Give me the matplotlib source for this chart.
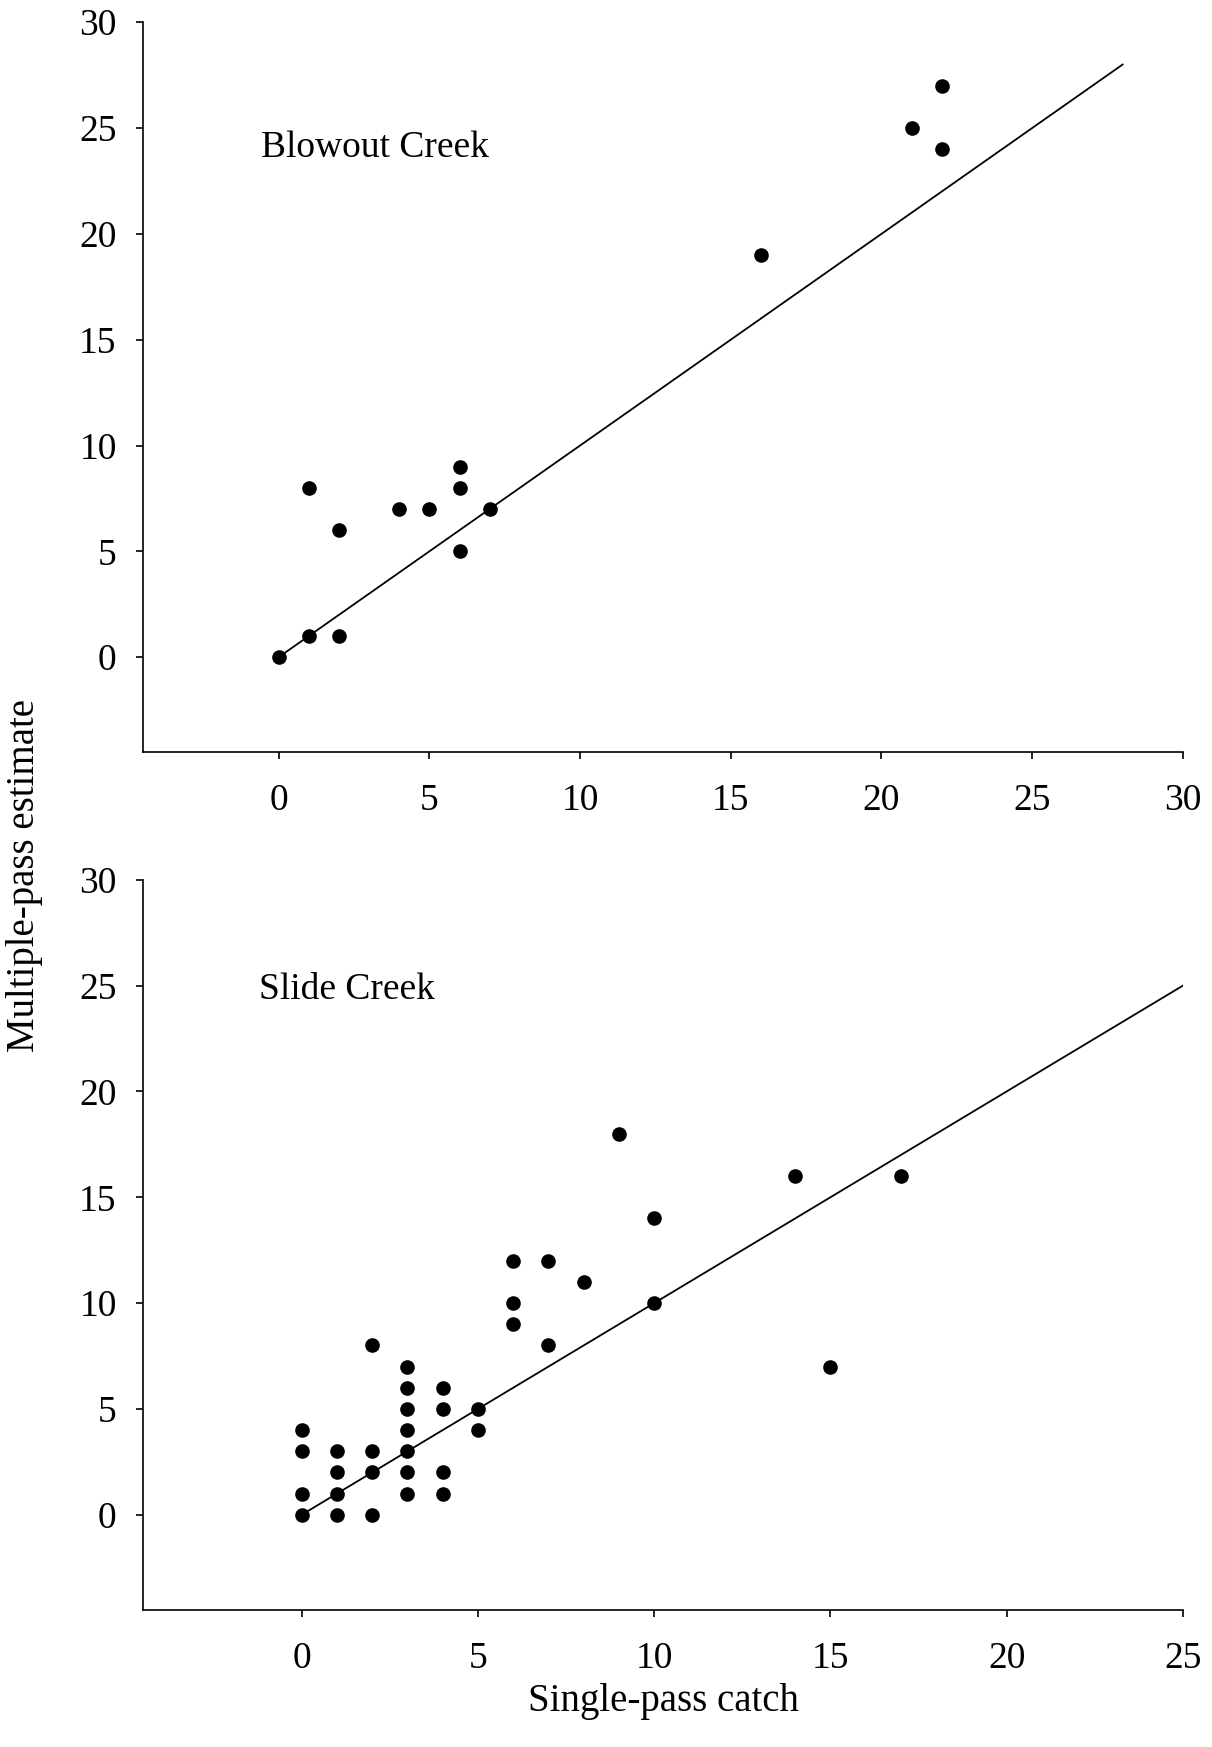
import matplotlib
matplotlib.use("Agg")
import matplotlib.pyplot as plt

plt.rcParams['font.family'] = ['Liberation Serif', 'DejaVu Serif']

# Blowout Creek
blowout_single = [0, 1, 1, 2, 2, 4, 5, 6, 6, 6, 7, 16, 21, 22, 22]
blowout_multi = [0, 1, 8, 6, 1, 7, 7, 9, 8, 5, 7, 19, 25, 27, 24]
blowout_line = [0, 28]

# Slide Creek
slide_single = [0, 0, 0, 0, 1, 1, 1, 1, 2, 2, 2, 2,
                3, 3, 3, 3, 3, 3, 3, 4, 4, 4, 4, 5, 5,
                6, 6, 6, 7, 7, 8, 9, 10, 10, 14, 15, 17]
slide_multi = [0, 1, 3, 4, 0, 1, 2, 3, 0, 2, 3, 8,
               1, 2, 3, 4, 5, 6, 7, 1, 2, 5, 6, 4, 5,
               9, 10, 12, 12, 8, 11, 18, 14, 10, 16, 7, 16]
slide_line = [0, 25]

fig = plt.figure(figsize=(12.12, 17.47), dpi=100)

panels = [
    ([0.1180, 0.5693, 0.8580, 0.4180], blowout_single, blowout_multi, blowout_line,
     30, [0, 5, 10, 15, 20, 25, 30], "Blowout Creek", (-0.6, 24.05)),
    ([0.1180, 0.0784, 0.8580, 0.4180], slide_single, slide_multi, slide_line,
     25, [0, 5, 10, 15, 20, 25], "Slide Creek", (-1.2, 24.8)),
]

for rect, xs, ys, line, xmax, xticks, name, pos in panels:
    ax = fig.add_axes(rect)
    ax.plot(line, line, color='black', linewidth=1.3, zorder=2)
    ax.plot(xs, ys, 'o', color='black', markersize=9.5, zorder=3, clip_on=False)
    ax.set_xlim(-4.5, xmax)
    ax.set_ylim(-4.5, 30)
    ax.set_xticks(xticks)
    ax.set_yticks([0, 5, 10, 15, 20, 25, 30])
    ax.spines['top'].set_visible(False)
    ax.spines['right'].set_visible(False)
    ax.spines['left'].set_linewidth(1.2)
    ax.spines['bottom'].set_linewidth(1.2)
    ax.tick_params(direction='out', length=5, width=1.2, labelsize=27, pad=14)
    ax.tick_params(axis='x', pad=17.5)
    ax.text(pos[0], pos[1], name, fontsize=27, va='center', ha='left')

fig.text(24.5 / 1212, 1 - 875 / 1747, "Multiple-pass estimate", rotation=90,
         fontsize=28, ha='center', va='center')
fig.text(663 / 1212, 1 - 1701 / 1747, "Single-pass catch", fontsize=28,
         ha='center', va='center')
fig.text(0.0, 1 - 1752 / 1747, "Figure 2.", fontsize=28, ha='left', va='top')

fig.savefig("out.png", dpi=100)
